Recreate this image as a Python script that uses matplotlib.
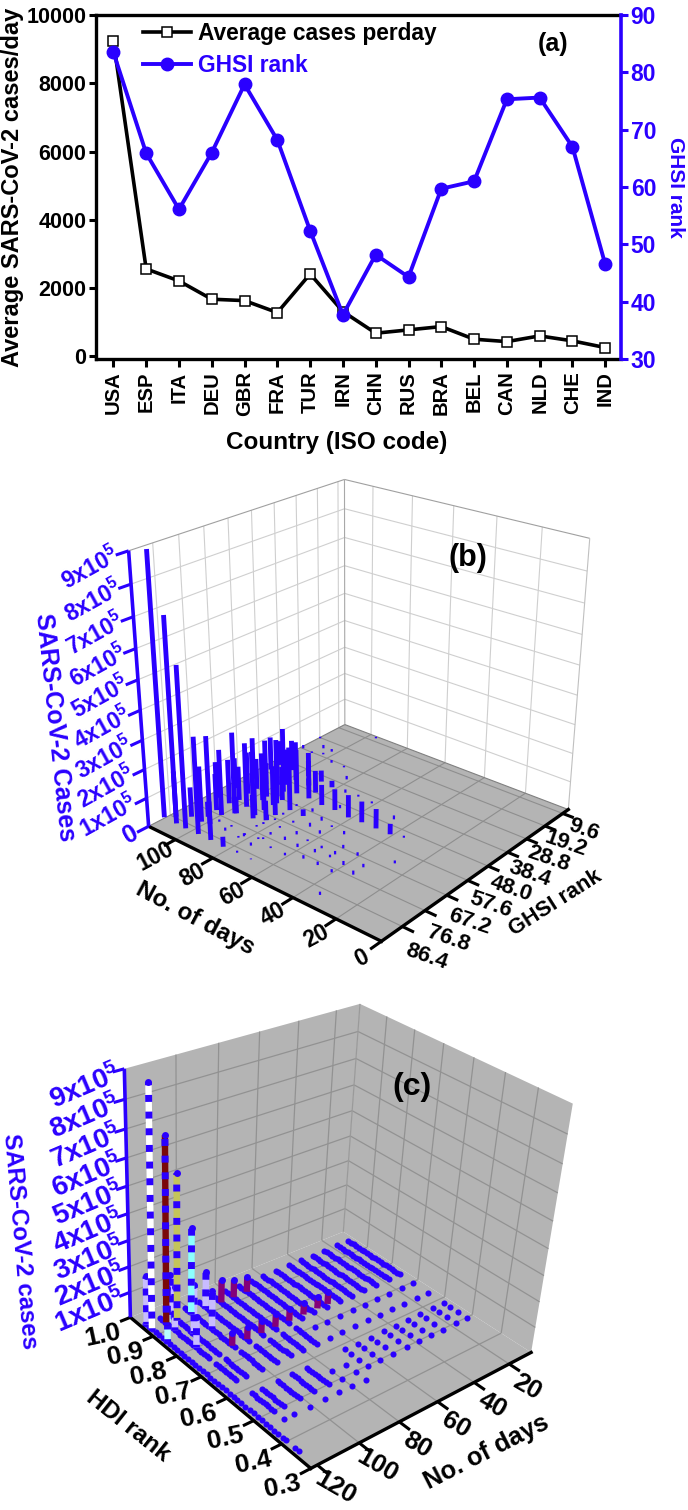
import numpy as np
import matplotlib
matplotlib.use('Agg')
import matplotlib.pyplot as plt
from mpl_toolkits.mplot3d.art3d import Line3DCollection, Poly3DCollection

plt.rcParams['font.family'] = ['Liberation Sans', 'DejaVu Sans']
plt.rcParams['font.weight'] = 'bold'
plt.rcParams['mathtext.fontset'] = 'custom'
plt.rcParams['mathtext.bf'] = 'Liberation Sans:bold'
plt.rcParams['mathtext.rm'] = 'Liberation Sans:bold'

W, H = 688, 1510
BLUE = '#2a00ff'

# ---------- panel (a) data
countries = ['USA','ESP','ITA','DEU','GBR','FRA','TUR','IRN','CHN','RUS','BRA','BEL','CAN','NLD','CHE','IND']
avg_cases = [9244,2560,2208,1672,1631,1280,2413,1310,676,773,870,500,430,597,451,255]
ghsi = [83.5,65.9,56.1,66.0,77.9,68.2,52.4,37.7,48.2,44.3,59.7,61.0,75.3,75.6,67.0,46.5]

# ---------- panel (b) data: day, GHSI rank, cases (thousands)
b_day = [115.5,108.5,103.1,96.4,89.7,82.7,75.8,68.7,112.4,107.8,102.1,98.4,96.9,90.4,
 90.7,82.5,83.4,99.9,96.9,97.0,93.2,95.9,93.4,82.3,89.3,104.1,104.1,103.0,
 96.6,94.3,95.4,88.3,81.9,74.9,35.6,41.1,47.9,55.0,61.3,69.0,75.5,82.9,
 68.9,61.4,47.0,26.9,68.4,61.1,54.4,33.9,33.5,33.9,40.6,48.0,40.4,47.5,
 47.6,40.4,47.5,54.1,54.1,61.5,61.5,68.5,67.9,68.6,75.4,82.1,83.0,76.6,
 75.2,75.3,76.1,61.6,54.3,61.4,67.9,67.5,82.8,84.0,81.5,81.9,74.8,75.3,
 74.8,82.5,107.1,102.4,108.0,103.5,113.6,114.4,96.1,95.9,89.3,81.7,89.9,88.8,
 96.4,102.9,107.7,
 104,104,104,111,111,111,111,104,97,90,97,90,90,90,90,84,84,84,104,111,100]
b_rank = [88.4,88.5,88.7,88.5,88.5,88.8,88.5,88.5,85.9,82.9,83.0,82.3,79.6,82.1,
 79.3,80.1,74.5,76.4,73.1,68.0,68.1,61.9,57.5,61.0,52.1,75.3,69.9,66.5,
 59.6,54.0,41.5,41.6,42.2,42.1,51.3,52.4,52.5,52.5,52.9,52.2,52.5,52.0,
 41.4,41.9,45.0,63.8,50.4,80.7,78.6,89.3,75.8,71.1,67.5,67.1,73.8,71.1,
 73.2,78.8,78.5,74.0,71.1,75.1,70.8,74.6,70.1,80.5,83.2,80.8,82.4,79.2,
 78.3,75.1,70.5,65.4,61.1,60.3,64.3,59.5,72.1,69.8,68.2,64.3,65.8,61.0,
 57.3,57.9,24.3,24.3,29.2,27.5,28.6,19.6,7.6,30.1,29.9,35.4,60.6,71.7,
 72.8,79.7,80.2,
 62,58,54,70,62,54,46,46,46,46,50,58,62,66,70,66,70,48,42,42,52]
b_cases = [886,698,553,335,355,35,7,3,161,105,195,80,8,11,
 6,6,6,231,285,227,208,169,205,223,158,130,157,121,
 122,68,56,41,24,12,7,37,69,74,80,75,73,73,
 7,7,14,10,12,9,12,11,14,12,12,12,14,12,
 9,11,12,12,9,12,6,12,12,6,11,11,6,6,
 6,9,6,12,12,6,14,14,7,18,6,7,7,24,
 12,7,13,10,6,6,13,6,6,10,6,13,63,84,
 60,54,48,
 150,110,160,130,110,150,120,170,140,120,130,120,140,130,110,90,70,80,110,90,110]
b_day_ticks = [100,80,60,40,20,0]
b_rank_ticks = [9.6,19.2,28.8,38.4,48.0,57.6,67.2,76.8,86.4]
b_grid_day = [100,80,60,40,20]
z_ticks = [1,2,3,4,5,6,7,8,9]

# ---------- panel (c) data
c_days = [10.5,17,24.7,31.7,38.6,45.2,52.6,59.8,66.3,73,80,86.5,93.7,101,108.8,113.5,120.5]
hdi_main = [.955,.944,.933,.922,.911,.90,.889,.878,.867,.856,.845,.834,.823,.812,.801,.79,.779,.768,.757,.747]
hdi_mid = [.696,.639]
hdi_cluster = [.58,.558,.529,.498]
hdi_seg1 = [.72,.71,.70,.69,.68,.67,.66,.65,.64]
hdi_seg2 = [.58,.57,.56,.55,.54,.53,.52,.51,.50]
hdi_dots = [.533,.497,.461]
hdi_edge_dot = [.463]
hdi_axis = [.956,.94,.925,.91,.895,.88,.865,.85,.835,.82,.805,.79,.775,.76,.745,.73,.715,.70,.685,.67,.655,.64,.625,.61,.595,.58,.565,.55,.535,.52,.505,.49,.475,.46,.445,.43,.415,.404,.372,.358]
tall_day = [121.3,114.3,109.0,101.9,94.6]
tall_cases = [895,703,558,338,149]
tall_hdi = 0.92
tall_colors = ['white','#7a0808','#c4c45a','#8cffff','#c8bcff']
short_day = [120.5,120.5,113.5,113.5,108.8,108.8,101,86.5,80,73]
short_hdi = [.95,.86,.89,.80,.85,.95,.84,.92,.92,.92]
short_cases = [190,210,170,120,190,160,150,90,70,60]
short_colors = ['#c8bcff','#b8ffff','#c8bcff','#c8bcff','#c8bcff','#c8bcff','#c8bcff','#84007a','#84007a','#84007a']
purple_day = [51.1,56.7,64.3,71.9,79.2,86.5,93.7,101.3]
purple_cases = [48,46,48,46,50,50,48,50]
purple_hdi = 0.755
c_day_ticks = [120,100,80,60,40,20]
c_hdi_ticks = [.9,.8,.7,.6,.5,.4,.3]

fig = plt.figure(figsize=(W/100, H/100), dpi=100)
fig.patch.set_facecolor('white')

# ==================== panel (a)
axa = fig.add_axes([96/W, 1-359/H, 525/W, 344/H])
x = np.arange(len(countries))
l1, = axa.plot(x, avg_cases, '-s', color='black', lw=2.6, ms=7.5, mfc='white', mec='black', mew=1.1,
               label='Average cases perday')
axa.set_xlim(-0.53, 15.48)
axa.set_ylim(-80, 10000)
axa.set_xticks(x, countries, rotation=90, fontsize=14.6)
axa.set_yticks(range(0, 10001, 2000))
axa.tick_params(axis='y', labelsize=15.5, width=2.2, length=5, pad=2)
axa.tick_params(axis='x', width=2.2, length=6, pad=3)
axa.set_xlabel('Country (ISO code)', fontsize=17.5, fontweight='bold', labelpad=5)
axa.xaxis.set_label_coords(0.459, -0.21)
for s in ('left', 'top', 'bottom'):
    axa.spines[s].set_linewidth(2.4)
axa.spines['right'].set_visible(False)
fig.text(13/W, 1-187/H, 'Average SARS-CoV-2 cases/day', rotation=90, ha='center', va='center', fontsize=17)
axb2 = axa.twinx()
l2, = axb2.plot(x, ghsi, '-o', color=BLUE, lw=2.8, ms=9, label='GHSI rank')
axb2.set_ylim(30.1, 90)
axb2.set_yticks(range(30, 91, 10))
axb2.tick_params(axis='y', colors=BLUE, labelsize=16.5, width=2.2, length=5, pad=2)
for s in ('left', 'top', 'bottom'):
    axb2.spines[s].set_visible(False)
axb2.spines['right'].set_color(BLUE)
axb2.spines['right'].set_linewidth(2.6)
fig.text(676/W, 1-187.5/H, 'GHSI rank', rotation=-90, ha='center', va='center', fontsize=15, color=BLUE)
leg = axb2.legend(handles=[l1, l2], loc='upper left', bbox_to_anchor=(143/W, 1-22/H), bbox_transform=fig.transFigure,
                  frameon=False, fontsize=16.4, handlelength=2.1, handletextpad=0.3, labelspacing=0.4,
                  borderpad=0, borderaxespad=0, numpoints=1)
leg.get_texts()[1].set_color(BLUE)
fig.text(553/W, 1-44/H, '(a)', ha='center', va='center', fontsize=18)


# ==================== 3D machinery
def fit_camera(world, px, lim):
    A = []
    for (a, b, c), (u, v) in zip(world, px):
        X = [a/lim[0], b/lim[1], c/lim[2], 1]
        u /= 500; v /= 500
        A.append(X + [0, 0, 0, 0] + [-u*t for t in X])
        A.append([0, 0, 0, 0] + X + [-v*t for t in X])
    _, _, V = np.linalg.svd(np.array(A))
    return np.diag([500, 500, 1]) @ V[-1].reshape(3, 4) @ np.diag([1/lim[0], 1/lim[1], 1/lim[2], 1])


def project(P, a, b, c):
    h = P @ np.array([a, b, c, 1.0])
    return h[0]/h[2], h[1]/h[2]


def panel(top_px, P, xl, yl, zl):
    ax = fig.add_axes([0, 1-(top_px+W)/H, 1, W/H], projection='3d', proj_type='ortho', computed_zorder=False)
    ax.set_axis_off()
    ax.patch.set_visible(False)
    ax.set_xlim(*xl); ax.set_ylim(*yl); ax.set_zlim(*zl)
    ax.set_autoscale_on(False)

    def get_proj():
        inv = ax.transData.inverted().get_matrix()
        F = np.array([[1, 0, 0], [0, -1, H], [0, 0, 1.0]])
        Q = inv @ F @ P
        return np.array([Q[0], Q[1], [0, 0, 0, 1.0], Q[2]])
    ax.get_proj = get_proj
    return ax


def lab(P, pt, s, dx=0, dy=0, **kw):
    u, v = project(P, *pt)
    kw.setdefault('ha', 'center'); kw.setdefault('va', 'center'); kw.setdefault('rotation_mode', 'anchor')
    fig.text((u+dx)/W, 1-(v+dy)/H, s, **kw)


def exp_label(n):
    return r'$\mathbf{%dx10^{5}}$' % n


def poly(ax, verts, color, z):
    c = Poly3DCollection([verts], facecolors=color, edgecolors='none', zorder=z)
    ax.add_collection3d(c, autolim=False)


def seg(ax, a, b, color, lw, z, cap='butt'):
    ax.plot([a[0], b[0]], [a[1], b[1]], [a[2], b[2]], color=color, lw=lw, zorder=z, solid_capstyle=cap)


GREY = '#b4b4b4'
ZMAX = 9e5

# ==================== panel (b)
d0, d1, r0, r1 = 0, 115, 6.5, 95
Pb = fit_camera([(d1, r1, 0), (d0, r1, 0), (d0, r0, 0), (d1, r0, 0), (d1, r1, ZMAX), (d1, r0, ZMAX), (d0, r0, ZMAX)],
                [(149.5, 826.7), (380.2, 941.7), (569.2, 808.3), (344.2, 725), (128.8, 550), (344.2, 479.3), (589.9, 539.3)],
                (115, 95, 9e5))
ax = panel(401, Pb, (d0, d1), (r0, r1), (0, ZMAX))
poly(ax, [(d1, r1, 0), (d0, r1, 0), (d0, r0, 0), (d1, r0, 0)], GREY, 1)
WALL = '#cfcfcf'; FG = '#8e8e8e'
for r in b_rank_ticks:
    seg(ax, (d1, r, 0), (d1, r, ZMAX), WALL, 0.8, 2)
    seg(ax, (d1, r, 0), (d0, r, 0), FG, 0.8, 2)
for d in b_grid_day:
    seg(ax, (d, r0, 0), (d, r0, ZMAX), WALL, 0.8, 2)
    seg(ax, (d, r0, 0), (d, r1, 0), FG, 0.8, 2)
for k in z_ticks:
    z = k*1e5
    seg(ax, (d1, r1, z), (d1, r0, z), '#cfcfcf' if k < 9 else '#a0a0a0', 0.8, 2)
    seg(ax, (d1, r0, z), (d0, r0, z), '#cfcfcf' if k < 9 else '#a0a0a0', 0.8, 2)
seg(ax, (d1, r0, 0), (d1, r0, ZMAX), '#a8a8a8', 0.8, 2)
seg(ax, (d0, r0, 0), (d0, r0, ZMAX), '#c0c0c0', 0.8, 2)
seg(ax, (d1, r1, 0), (d1, r0, 0), '#808080', 0.8, 2)
seg(ax, (d1, r0, 0), (d0, r0, 0), '#808080', 0.8, 2)
b_segs = [[(d, r, 0), (d, r, v*1e3)] for d, r, v in zip(b_day, b_rank, b_cases)]
b_lws = [3.5 if v >= 15 else 1.6 for v in b_cases]
ax.add_collection3d(Line3DCollection(b_segs, colors=BLUE, linewidths=b_lws, capstyle='butt', zorder=5), autolim=False)
seg(ax, (d1, r1, 0), (d0, r1, 0), 'black', 2.4, 6, 'projecting')
seg(ax, (d0, r1, 0), (d0, r0, 0), 'black', 2.4, 6, 'projecting')
seg(ax, (d1, r1, 0), (d1, r1, ZMAX), BLUE, 2.6, 7)
for d in b_day_ticks:
    seg(ax, (d, r1, 0), (d, r1+4.5, 0), 'black', 2.2, 6)
    lab(Pb, (d, r1, 0), str(d), -20, 17, rotation=28, fontsize=16.5)
for r in b_rank_ticks:
    seg(ax, (d0, r, 0), (d0-5, r, 0), 'black', 2.2, 6)
    t = (r-9.6)/76.8
    lab(Pb, (d0, r, 0), f'{r:.1f}', 21+3*t, 16+14*t, rotation=-19, fontsize=16)
seg(ax, (d1, r1, 0), (d1, r1+4.5, 0), BLUE, 2.2, 7)
for k in z_ticks:
    seg(ax, (d1, r1, k*1e5), (d1, r1+4.5, k*1e5), BLUE, 2.2, 7)
    lab(Pb, (d1, r1, k*1e5), exp_label(k), -11, 3, rotation=29, ha='right', fontsize=16.5, color=BLUE)
lab(Pb, (d1, r1, 0), '0', -18, 8, rotation=29, fontsize=18, color=BLUE)
fig.text(195.6/W, 1-919/H, 'No. of days', rotation=-28, ha='center', va='center', rotation_mode='anchor', fontsize=17.5)
fig.text(556/W, 1-903/H, 'GHSI rank', rotation=32.5, ha='center', va='center', rotation_mode='anchor', fontsize=15.7)
fig.text(55/W, 1-727/H, 'SARS-CoV-2 Cases', rotation=-84, ha='center', va='center', rotation_mode='anchor', fontsize=18, color=BLUE)
fig.text(468/W, 1-558/H, '(b)', ha='center', va='center', fontsize=22)

# ==================== panel (c)
e0, e1, h0, h1 = 7, 123, .3, 1.0
Pc = fit_camera([(e1, h1, 0), (e1, h0, 0), (e0, h0, 0), (e0, h1, 0), (e1, h1, ZMAX), (e0, h1, ZMAX), (e0, h0, ZMAX)],
                [(131, 1317.7), (310, 1468.5), (531.9, 1351.7), (342.7, 1232), (124.4, 1068.3), (360, 1003.7), (572.7, 1104.3)],
                (123, 1, 9e5))
ax = panel(H-W, Pc, (e0, e1), (h0, h1), (0, ZMAX))
poly(ax, [(e1, h1, 0), (e1, h0, 0), (e0, h0, 0), (e0, h1, 0)], GREY, 1)
poly(ax, [(e1, h1, 0), (e0, h1, 0), (e0, h1, ZMAX), (e1, h1, ZMAX)], GREY, 1)
poly(ax, [(e0, h1, 0), (e0, h0, 0), (e0, h0, ZMAX), (e0, h1, ZMAX)], GREY, 1)
GL = '#929292'
for h in [.9, .8, .7, .6, .5, .4]:
    seg(ax, (e0, h, 0), (e0, h, ZMAX), GL, 0.9, 2)
    seg(ax, (e0, h, 0), (e1, h, 0), GL, 0.9, 2)
for d in [100, 80, 60, 40, 20]:
    seg(ax, (d, h1, 0), (d, h1, ZMAX), GL, 0.9, 2)
    seg(ax, (d, h1, 0), (d, h0, 0), GL, 0.9, 2)
for k in [1, 2, 3, 4, 5, 6, 7, 8]:
    seg(ax, (e1, h1, k*1e5), (e0, h1, k*1e5), GL, 0.9, 2)
    seg(ax, (e0, h1, k*1e5), (e0, h0, k*1e5), GL, 0.9, 2)
seg(ax, (e0, h1, 0), (e0, h1, ZMAX), '#9a9a9a', 0.9, 2)


def dots(day, hdis, z):
    ax.plot([day]*len(hdis), hdis, [0]*len(hdis), 'o', color=BLUE, ms=4.4, mew=0, zorder=z, linestyle='none')


for day in c_days:
    z = 4 + day*0.001
    if day == c_days[-1]:
        dots(day, hdi_axis, z)
    elif day <= 67:
        dots(day, hdi_main, z); dots(day, hdi_mid, z); dots(day, hdi_cluster, z)
    elif day <= 80:
        dots(day, hdi_main, z); dots(day, hdi_seg1, z); dots(day, hdi_dots, z)
    else:
        dots(day, hdi_main, z); dots(day, hdi_seg1, z); dots(day, hdi_seg2, z); dots(day, hdi_edge_dot, z)


def bar(day, hdi, v, color, z, dash=True, lw=4.6):
    seg(ax, (day, hdi, 0), (day, hdi, v*1e3), color, lw, z)
    if dash:
        ax.plot([day, day], [hdi, hdi], [0, v*1e3], color=BLUE, lw=5.0, ls=(0.6, (1.0, 1.4)), zorder=z+.001,
                dash_capstyle='butt')
    ax.plot([day], [hdi], [v*1e3], 'o', color=BLUE, ms=5, mew=0, zorder=z+.002)


for d, v in zip(purple_day, purple_cases):
    bar(d, purple_hdi, v, '#84007a', 5, dash=False)
for d, h, v, c in zip(short_day, short_hdi, short_cases, short_colors):
    bar(d, h, v, c, 5.5, dash=v > 100)
for d, v, c in zip(tall_day, tall_cases, tall_colors):
    bar(d, tall_hdi, v, c, 6)

seg(ax, (e1, h1, 0), (e1, h0, 0), 'black', 2.4, 8, 'projecting')
seg(ax, (e1, h0, 0), (e0, h0, 0), 'black', 2.4, 8, 'projecting')
seg(ax, (e1, h1, 0), (e1, h1, ZMAX), BLUE, 2.6, 9)
for d in c_day_ticks:
    seg(ax, (d, h0, 0), (d, h0-.035, 0), 'black', 2.2, 8)
    lab(Pc, (d, h0, 0), str(d), 18, 23, rotation=-30, fontsize=18.5)
for h in c_hdi_ticks + [1.0]:
    seg(ax, (e1, h, 0), (e1+5, h, 0), 'black', 2.2, 8)
    lab(Pc, (e1, h, 0), f'{h:.1f}', -28, 18, rotation=12, fontsize=19)
for k in z_ticks:
    seg(ax, (e1, h1, k*1e5), (e1+5, h1, k*1e5), BLUE, 2.2, 9)
    lab(Pc, (e1, h1, k*1e5), exp_label(k), -5, 4, rotation=23, ha='right', fontsize=20, color=BLUE)
fig.text(486.8/W, 1-1452/H, 'No. of days', rotation=27, ha='center', va='center', rotation_mode='anchor', fontsize=18.3)
fig.text(128.5/W, 1-1426/H, 'HDI rank', rotation=-38.5, ha='center', va='center', rotation_mode='anchor', fontsize=17.5)
fig.text(19.8/W, 1-1241/H, 'SARS-CoV-2 cases', rotation=-85, ha='center', va='center', rotation_mode='anchor', fontsize=17.3, color=BLUE)
fig.text(412/W, 1-1087/H, '(c)', ha='center', va='center', fontsize=23)

fig.savefig('out.png', dpi=100)
